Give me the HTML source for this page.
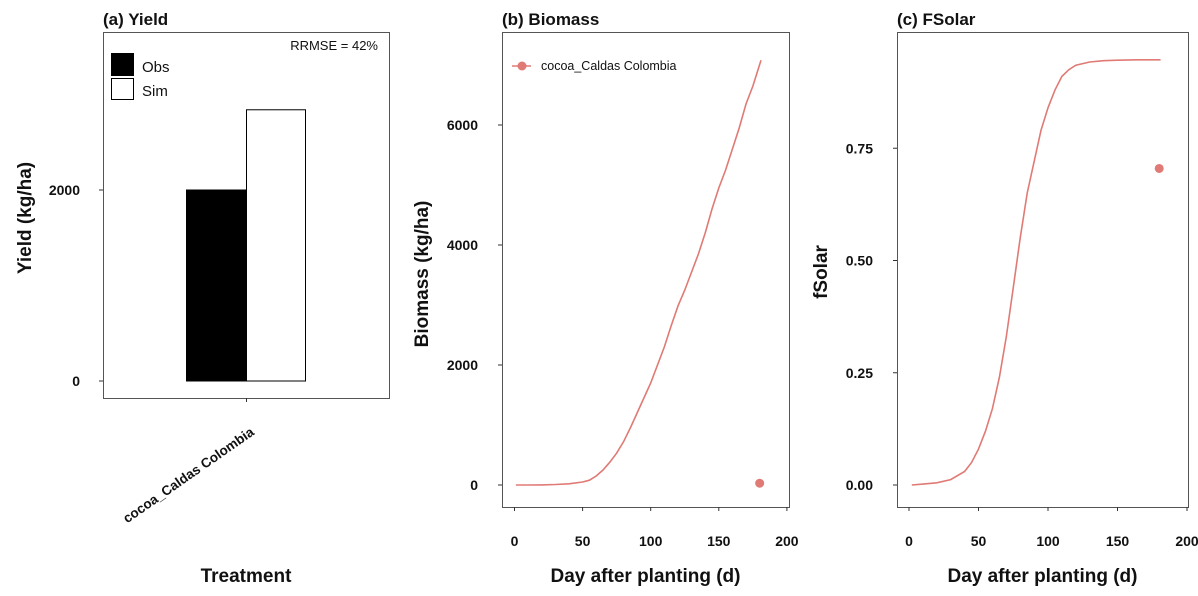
<!DOCTYPE html>
<html><head><meta charset="utf-8"><style>
html,body{margin:0;padding:0;background:#fff;}
svg{display:block;font-family:"Liberation Sans",Arial,sans-serif;}
.tick{font-size:14px;font-weight:bold;fill:#111;}
.ttl{font-size:17px;font-weight:bold;fill:#111;}
.ax{font-size:19px;font-weight:bold;fill:#111;}
</style></head><body>
<svg id="chart" width="1198" height="596" viewBox="0 0 1198 596">
<g id="pa"></g>
<g id="pb"></g>
<g id="pc"></g>
</svg>
<script>
const yieldCategories = ["cocoa_Caldas Colombia"];
const yieldObs = [2000];
const yieldSim = [2840];
const yieldTicks = [0, 2000];

const bioDays = [1,10,20,30,40,50,55,60,65,70,75,80,85,90,95,100,105,110,115,120,125,130,135,140,145,150,155,160,165,170,175,181];
const bioSim = [0,0,2,8,20,50,80,150,250,380,530,720,950,1200,1450,1700,2000,2300,2650,2980,3250,3550,3850,4200,4600,4950,5250,5600,5950,6350,6650,7080];
const bioObsDay = [180];
const bioObs = [30];
const bioYTicks = [0,2000,4000,6000];
const dayTicks = [0,50,100,150,200];

const fsDays = [2,10,20,30,40,45,50,55,60,65,70,75,80,85,90,95,100,105,110,115,120,130,140,150,165,181];
const fsSim = [0,0.002,0.005,0.012,0.03,0.05,0.08,0.12,0.17,0.24,0.33,0.44,0.55,0.65,0.72,0.79,0.84,0.88,0.91,0.925,0.935,0.942,0.945,0.946,0.947,0.947];
const fsObsDay = [180];
const fsObs = [0.705];
const fsYTicks = [0,0.25,0.5,0.75];
const fsTickLabels = ["0.00","0.25","0.50","0.75"];

const NS="http://www.w3.org/2000/svg";
function mk(parent,tag,attrs,text){const e=document.createElementNS(NS,tag);for(const k in attrs)e.setAttribute(k,attrs[k]);if(text!==undefined)e.textContent=text;parent.appendChild(e);return e;}
const RED="#e07a75";

// Panel A
(function(){
  const g=document.getElementById('pa');
  const y=v=>381-v*(191/2000);
  const t=mk(g,'text',{x:103,y:25,class:'ttl'},'(a) Yield');
  
  const box=mk(g,'rect',{x:103.5,y:32.5,width:286,height:366,fill:'none',stroke:'#555','stroke-width':1});
  
  yieldTicks.forEach(v=>{
    const l=mk(g,'line',{x1:99,x2:103,y1:y(v),y2:y(v),stroke:'#333'});
    
    const tx=mk(g,'text',{x:80,y:y(v)+5,class:'tick','text-anchor':'end'},String(v));
    
  });
  yieldCategories.forEach((c,i)=>{
    const cx=246.5;
    const bo=mk(g,'rect',{x:186.5,y:y(yieldObs[i]),width:60,height:y(0)-y(yieldObs[i]),fill:'#000',stroke:'#000'});
    
    const bs=mk(g,'rect',{x:246.5,y:y(yieldSim[i]),width:59,height:y(0)-y(yieldSim[i]),fill:'#fff',stroke:'#000'});
    
    const tk=mk(g,'line',{x1:cx,x2:cx,y1:398,y2:402,stroke:'#333'});
    
    const lb=mk(g,'text',{x:0,y:0,transform:'translate(255,434) rotate(-35)','text-anchor':'end',style:'font-size:13.5px;font-weight:bold;fill:#111'},c);
    
  });
  const r=mk(g,'text',{x:378,y:50,'text-anchor':'end',style:'font-size:13px;fill:#111'},'RRMSE = 42%');
  
  const l1=mk(g,'rect',{x:111.5,y:53.5,width:22,height:22,fill:'#000',stroke:'#000'});
  
  const l1t=mk(g,'text',{x:142,y:72,style:'font-size:15px;fill:#111'},'Obs');
  
  const l2=mk(g,'rect',{x:111.5,y:78.5,width:22,height:21,fill:'#fff',stroke:'#000'});
  
  const l2t=mk(g,'text',{x:142,y:96,style:'font-size:15px;fill:#111'},'Sim');
  
  const xt=mk(g,'text',{x:246,y:582,class:'ax','text-anchor':'middle'},'Treatment');
  
  const yt=mk(g,'text',{x:0,y:0,transform:'translate(31,218) rotate(-90)',class:'ax','text-anchor':'middle'},'Yield (kg/ha)');
  
})();

function linePanel(gid,o){
  const g=document.getElementById(gid);
  const x=d=>o.x0+d*o.xs;
  const y=v=>485-v*o.ys;
  const t=mk(g,'text',{x:o.bx,y:25,class:'ttl'},o.title);
  
  const box=mk(g,'rect',{x:o.bx+0.5,y:32.5,width:o.bw,height:475,fill:'none',stroke:'#555'});
  
  o.yt.forEach((v,i)=>{
    const l=mk(g,'line',{x1:o.bx-4,x2:o.bx,y1:y(v),y2:y(v),stroke:'#333'});
    
    const tx=mk(g,'text',{x:o.bx-24,y:y(v)+5,class:'tick','text-anchor':'end'},o.yl[i]);
    
  });
  dayTicks.forEach(d=>{
    const l=mk(g,'line',{x1:x(d),x2:x(d),y1:507,y2:511,stroke:'#333'});
    
    const tx=mk(g,'text',{x:x(d),y:546,class:'tick','text-anchor':'middle'},String(d));
    
  });
  const pts=o.days.map((d,i)=>x(d).toFixed(1)+','+y(o.vals[i]).toFixed(1)).join(' ');
  const pl=mk(g,'polyline',{points:pts,fill:'none',stroke:RED,'stroke-width':1.6});
  
  o.od.forEach((d,i)=>{
    const c=mk(g,'circle',{cx:x(d),cy:y(o.ov[i]),r:4.5,fill:RED});
    
  });
  const xt=mk(g,'text',{x:o.bx+o.bw/2,y:582,class:'ax','text-anchor':'middle'},'Day after planting (d)');
  
  const yt=mk(g,'text',{x:0,y:0,transform:'translate('+o.ytx+','+o.yty+') rotate(-90)',class:'ax','text-anchor':'middle'},o.ylab);
  
  return g;
}
const gb=linePanel('pb',{pre:'biomass',title:'(b) Biomass',bx:502,bw:287,x0:514.5,xs:1.362,ys:120/2000,yt:bioYTicks,yl:bioYTicks.map(String),days:bioDays,vals:bioSim,od:bioObsDay,ov:bioObs,ytx:428,yty:274,ylab:'Biomass (kg/ha)'});
const gc=linePanel('pc',{pre:'fsolar',title:'(c) FSolar',bx:897,bw:291,x0:909,xs:1.39,ys:449,yt:fsYTicks,yl:fsTickLabels,days:fsDays,vals:fsSim,od:fsObsDay,ov:fsObs,ytx:827,yty:272,ylab:'fSolar'});
// legend in biomass panel
const ll=mk(gb,'line',{x1:512,x2:531,y1:66,y2:66,stroke:RED,'stroke-width':1.6});

const lc=mk(gb,'circle',{cx:522,cy:66,r:4.5,fill:RED});

const lt=mk(gb,'text',{x:541,y:70,style:'font-size:12.5px;fill:#111'},'cocoa_Caldas Colombia');

</script>
</body></html>
